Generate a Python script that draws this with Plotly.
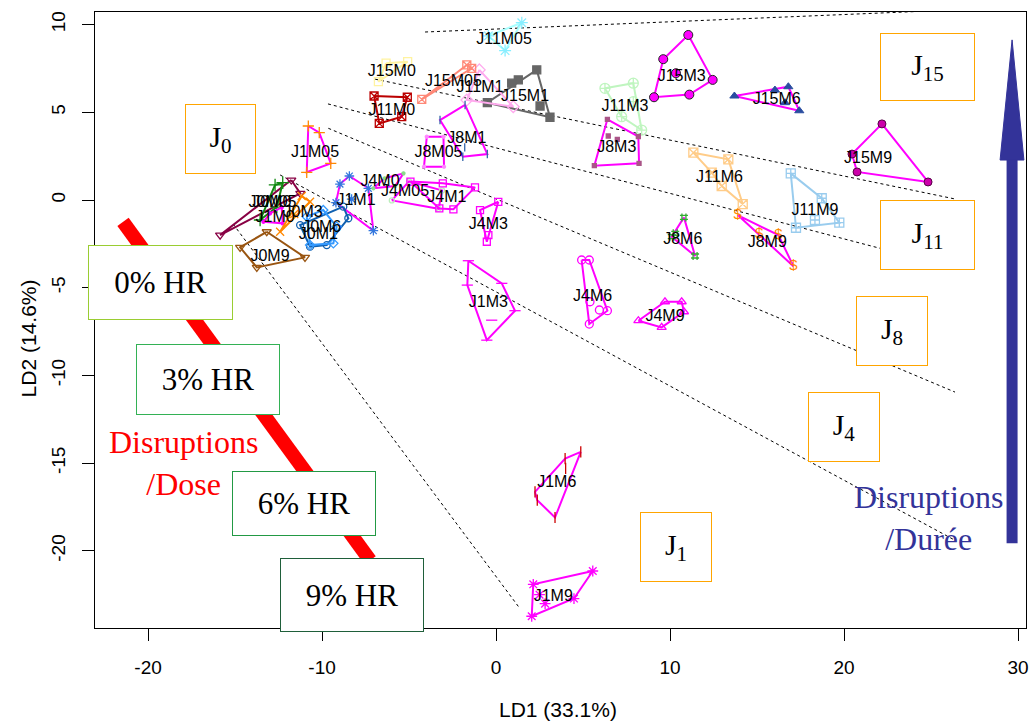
import plotly.graph_objects as go

# ---------------- data (LD1, LD2 coordinates) ----------------
J15M3_x = [11.05, 12.45, 11.11, 9.08, 9.61];   J15M3_y = [9.41, 6.85, 6.01, 5.86, 8.03]
J15M3_ix = [10.34];                            J15M3_iy = [7.23]
J15M6_x = [13.70, 16.80, 17.43];               J15M6_y = [5.93, 6.46, 5.09]
J15M6_ix = [16.03, 16.61];                     J15M6_iy = [6.27, 5.55]
J11M3_x = [6.26, 7.89, 8.37, 7.22];            J11M3_y = [6.37, 6.66, 3.99, 4.75]
J11M3_ix = [7.89];                             J11M3_iy = [5.61]
J8M3_x = [6.40, 8.18, 8.22, 5.65];             J8M3_y = [4.60, 3.61, 2.09, 1.96]
J8M3_ix = [6.45, 6.97];                        J8M3_iy = [3.65, 3.46]
J11M6_x = [11.34, 13.35, 14.18, 12.97, 12.40]; J11M6_y = [2.70, 2.32, -0.23, 0.80, 1.56]
J11M9_x = [16.94, 18.72, 19.73, 17.24];        J11M9_y = [1.52, 0.10, -1.29, -1.58]
J11M9_ix = [18.33];                            J11M9_iy = [-1.14]
J8M6_x = [10.80, 11.44, 10.10];                J8M6_y = [-0.99, -3.19, -2.09]
J8M6_ix = [10.30];                             J8M6_iy = [-1.90]
J8M9_x = [13.89, 16.23, 17.09];                J8M9_y = [-0.86, -2.00, -3.77]
J8M9_ix = [15.13];                             J8M9_iy = [-1.94]
J15M9_x = [22.18, 24.83, 20.75, 20.46];        J15M9_y = [4.34, 1.03, 1.60, 2.62]
J15M1_x = [2.34, 3.10, -0.50];                 J15M1_y = [7.42, 4.72, 5.55]
J15M1_ix = [1.28, 0.90, 2.53];                 J15M1_iy = [6.85, 6.66, 5.36]
J11M1_x = [-0.96, 0.99, -1.68];                J11M1_y = [7.42, 5.32, 5.70]
J15M05_x = [-1.68, -1.40, -4.27];              J15M05_y = [7.70, 7.51, 5.74]
J15M0_x = [-6.32, -5.08, -6.76];               J15M0_y = [7.80, 7.89, 6.75]
J11M0_x = [-7.01, -5.10, -5.42, -6.71];        J11M0_y = [5.93, 5.86, 4.75, 4.37]
J11M05_x = [1.48, 0.52, -0.44];                J11M05_y = [10.11, 8.52, 9.36]
J8M1_x = [-1.78, -0.50, -1.91, -3.22];         J8M1_y = [5.42, 2.62, 2.47, 4.56]
J8M1_ix = [-1.80];                             J8M1_iy = [3.00]
J8M05_x = [-3.98, -3.02, -2.99, -4.14];        J8M05_y = [3.61, 3.61, 1.90, 1.90]
J1M05_x = [-10.79, -10.16, -9.50, -10.88];     J1M05_y = [4.22, 3.84, 2.09, 1.58]
J1M1_x = [-8.43, -7.34, -7.05, -9.20, -8.97];  J1M1_y = [1.37, 0.67, -1.75, -0.15, 0.91]
J1M1_ix = [-8.30];                             J1M1_iy = [0.05]
J4M0_x = [-7.05, -6.40, -5.32, -5.80];         J4M0_y = [0.67, 1.24, 1.52, 0.80]
J4M05_x = [-5.99, -5.00, -3.10, -3.30];        J4M05_y = [-0.02, 1.06, 0.55, -0.50]
J4M1_x = [-4.92, -3.06, -1.21, -2.45, -3.26];  J4M1_y = [1.05, 0.95, 0.72, -0.53, -0.48]
J4M3_x = [0.13, -0.53, -0.92];                 J4M3_y = [-0.10, -2.38, -0.57]
J4M3_ix = [-0.44];                             J4M3_iy = [-2.00]
J1M3_x = [-1.59, 0.33, 1.09, -0.53, -1.65];    J1M3_y = [-3.46, -4.75, -6.31, -7.99, -4.85]
J1M3_ix = [-0.25];                             J1M3_iy = [-6.85]
J4M6_x = [4.92, 5.36, 6.40, 5.36];             J4M6_y = [-3.42, -3.42, -6.31, -7.07]
J4M6_ix = [5.94, 5.40];                        J4M6_iy = [-6.27, -5.80]
J4M9_x = [8.18, 9.71, 10.67, 10.80, 9.52];     J4M9_y = [-6.88, -5.80, -5.80, -6.37, -7.26]
J1M6_x = [4.87, 3.39, 2.37, 2.24, 3.97];       J1M6_y = [-14.36, -18.10, -17.11, -16.64, -14.74]
J1M6_ix = [4.00];                              J1M6_iy = [-15.30]
J1M9_x = [5.56, 4.48, 2.05, 2.14];             J1M9_y = [-21.15, -22.72, -23.73, -21.91]
J1M9_ix = [2.82, 2.50];                        J1M9_iy = [-23.01, -22.50]
J0M0_x = [-11.77, -11.25, -15.86];             J0M0_y = [1.14, 0.38, -2.00]
J0M05_x = [-12.70, -12.26, -12.60, -13.56];    J0M05_y = [0.86, 0.99, -0.40, -1.14]
J1M0_x = [-12.99, -12.32, -12.26, -13.37];     J1M0_y = [-0.76, -0.42, -1.33, -1.24]
J0M3_x = [-11.17, -10.69, -12.41];             J0M3_y = [0.23, -0.10, -1.81]
J0M3_ix = [-11.60];                            J0M3_iy = [-0.80]
J0M1_x = [-8.78, -8.49, -9.73, -10.69, -11.26]; J0M1_y = [-0.38, -1.04, -2.57, -2.66, -1.43]
J0M6_x = [-10.88, -9.93, -9.16, -9.35, -10.69]; J0M6_y = [-0.95, -0.57, -1.52, -2.47, -2.57]
J0M9_x = [-13.18, -10.98, -13.75, -14.71];     J0M9_y = [-1.81, -3.27, -3.84, -2.70]

label_names = ["J15M3", "J15M6", "J11M3", "J8M3", "J11M6", "J11M9", "J8M6", "J8M9",
               "J15M9", "J15M1", "J11M1", "J15M05", "J15M0", "J11M0", "J11M05", "J8M1",
               "J8M05", "J1M05", "J1M1", "J4M0", "J4M05", "J4M1", "J4M3", "J1M3", "J4M6",
               "J4M9", "J1M6", "J1M9", "J0M0", "J0M05", "J1M0", "J0M3", "J0M6", "J0M1", "J0M9"]
label_x = [10.67, 16.13, 7.41, 6.94, 12.84, 18.33, 10.73, 15.59,
           21.38, 1.67, -0.92, -2.45, -5.99, -5.99, 0.46, -1.68,
           -3.31, -10.40, -8.05, -6.67, -5.23, -2.83, -0.44, -0.44, 5.55,
           9.71, 3.49, 3.29, -12.89, -12.85, -12.70, -11.09, -10.02, -10.21, -12.99]
label_y = [7.03, 5.70, 5.29, 2.95, 1.24, -0.61, -2.28, -2.43,
           2.34, 5.89, 6.37, 6.75, 7.32, 5.09, 9.13, 3.46,
           2.70, 2.70, -0.04, 1.00, 0.47, 0.10, -1.43, -5.89, -5.55,
           -6.69, -16.16, -22.63, -0.19, -0.17, -1.05, -0.74, -1.62, -2.00, -3.27]

# dotted boundary lines between sampling days
bound_x0 = [-4.08, -6.95, -9.66, -9.64, -12.41, -15.11]
bound_y0 = [9.58, 6.89, 5.48, 4.09, 1.43, -1.37]
bound_x1 = [26.38, 26.38, 26.38, 26.38, 26.38, 1.32]
bound_y1 = [10.84, 0.06, -3.87, -10.95, -19.40, -23.22]

# axis ticks
x_ticks = [-20, -10, 0, 10, 20, 30]
x_tick_text = ["-20", "-10", "0", "10", "20", "30"]
y_ticks = [-20, -15, -10, -5, 0, 5, 10]
y_tick_text = ["-20", "-15", "-10", "-5", "0", "5", "10"]

# labelled boxes
day_box_text = ["J<sub>0</sub>", "J<sub>15</sub>", "J<sub>11</sub>", "J<sub>8</sub>", "J<sub>4</sub>", "J<sub>1</sub>"]
day_box_x = [-15.83, 24.80, 24.80, 22.76, 20.00, 10.34]
day_box_y = [3.48, 7.59, -2.00, -7.47, -12.95, -19.79]
dose_box_text = ["0% HR", "3% HR", "6% HR", "9% HR"]
dose_box_x = [-19.28, -16.55, -11.03, -8.28]
dose_box_y = [-4.71, -10.24, -17.31, -22.53]

dose_arrow_x = [-21.44, -7.24]
dose_arrow_y = [-1.25, -20.54]
time_arrow_x = 29.66
time_shaft_y = [-19.57, 2.60]
time_head_x = [28.97, 30.34, 29.66]
time_head_y = [2.28, 2.28, 9.13]

# ---------------- styles ----------------
MAG = "#ff00ff"
groups = [
    ("J15M3", J15M3_x, J15M3_y, J15M3_ix, J15M3_iy, MAG, "circle", MAG, 9, "#222222"),
    ("J15M6", J15M6_x, J15M6_y, J15M6_ix, J15M6_iy, MAG, "triangle-up", "#2a4da0", 8, "#2a4da0"),
    ("J11M3", J11M3_x, J11M3_y, J11M3_ix, J11M3_iy, "#bff5bf", "circle-cross-open", "#bff5bf", 10, None),
    ("J8M3", J8M3_x, J8M3_y, J8M3_ix, J8M3_iy, MAG, "square", "#aa5588", 4, None),
    ("J11M6", J11M6_x, J11M6_y, [], [], "#ffcc88", "square-x-open", "#ffcc88", 9, None),
    ("J11M9", J11M9_x, J11M9_y, J11M9_ix, J11M9_iy, "#99ccee", "square-cross-open", "#99ccee", 9, None),
    ("J8M6", J8M6_x, J8M6_y, J8M6_ix, J8M6_iy, MAG, "hash-open", "#33aa33", 8, None),
    ("J8M9", J8M9_x, J8M9_y, J8M9_ix, J8M9_iy, MAG, None, "#ff8800", 0, None),
    ("J15M9", J15M9_x, J15M9_y, [], [], MAG, "circle", "#cc00aa", 8, "#550044"),
    ("J15M1", J15M1_x, J15M1_y, J15M1_ix, J15M1_iy, "#666666", "square", "#666666", 8, None),
    ("J11M1", J11M1_x, J11M1_y, [], [], "#ffaaee", "diamond-open", "#ffaaee", 9, None),
    ("J15M05", J15M05_x, J15M05_y, [], [], "#ff8877", "square-x-open", "#ff8877", 8, None),
    ("J15M0", J15M0_x, J15M0_y, [], [], "#fff3a0", "square-open", "#fff3a0", 8, None),
    ("J11M0", J11M0_x, J11M0_y, [], [], "#bb0000", "square-x-open", "#bb0000", 8, None),
    ("J11M05", J11M05_x, J11M05_y, [], [], "#aaffff", "asterisk-open", "#88eeff", 10, None),
    ("J8M1", J8M1_x, J8M1_y, J8M1_ix, J8M1_iy, MAG, "line-ns-open", "#3366aa", 6, None),
    ("J8M05", J8M05_x, J8M05_y, [], [], MAG, "circle", "#ff88ff", 3, None),
    ("J1M05", J1M05_x, J1M05_y, [], [], MAG, "cross-thin-open", "#ff8800", 8, None),
    ("J1M1", J1M1_x, J1M1_y, J1M1_ix, J1M1_iy, MAG, "asterisk-open", "#3377dd", 8, None),
    ("J4M0", J4M0_x, J4M0_y, [], [], MAG, "circle", "#88dd88", 3, None),
    ("J4M05", J4M05_x, J4M05_y, [], [], MAG, "circle-open", "#bbeebb", 5, None),
    ("J4M1", J4M1_x, J4M1_y, [], [], MAG, "square-open", MAG, 7, None),
    ("J4M3", J4M3_x, J4M3_y, J4M3_ix, J4M3_iy, MAG, "square-open", MAG, 7, None),
    ("J1M3", J1M3_x, J1M3_y, J1M3_ix, J1M3_iy, MAG, "line-ew-open", MAG, 8, None),
    ("J4M6", J4M6_x, J4M6_y, J4M6_ix, J4M6_iy, MAG, "circle-open", MAG, 8, None),
    ("J4M9", J4M9_x, J4M9_y, [], [], MAG, "triangle-up-open", MAG, 8, None),
    ("J1M6", J1M6_x, J1M6_y, J1M6_ix, J1M6_iy, MAG, "line-ns-open", "#cc0000", 8, None),
    ("J1M9", J1M9_x, J1M9_y, J1M9_ix, J1M9_iy, MAG, "asterisk-open", MAG, 9, None),
    ("J0M0", J0M0_x, J0M0_y, [], [], "#880044", "triangle-down-open", "#880044", 8, None),
    ("J0M05", J0M05_x, J0M05_y, [], [], "#118811", "cross-thin-open", "#118811", 9, None),
    ("J1M0", J1M0_x, J1M0_y, [], [], MAG, "circle", MAG, 3, None),
    ("J0M3", J0M3_x, J0M3_y, J0M3_ix, J0M3_iy, "#ff8800", "x-thin-open", "#ff8800", 8, None),
    ("J0M1", J0M1_x, J0M1_y, [], [], "#1060b0", "circle-open", "#1060b0", 7, None),
    ("J0M6", J0M6_x, J0M6_y, [], [], "#3399ff", "diamond-open", "#3399ff", 7, None),
    ("J0M9", J0M9_x, J0M9_y, [], [], "#995511", "triangle-down-open", "#995511", 8, None),
]

SANS = "Liberation Sans, Arial, sans-serif"
SERIF = "Liberation Serif, Times New Roman, serif"

fig = go.Figure()

# dose arrow (thick red band) drawn first
fig.add_trace(go.Scatter(x=dose_arrow_x, y=dose_arrow_y, mode="lines",
                         line=dict(color="#ff0000", width=14), hoverinfo="skip"))

# dotted boundaries
for i in range(len(bound_x0)):
    fig.add_trace(go.Scatter(x=[bound_x0[i], bound_x1[i]], y=[bound_y0[i], bound_y1[i]],
                             mode="lines", line=dict(color="black", width=1, dash="dot"),
                             hoverinfo="skip"))

# hull polygons and points
for name, hx, hy, ix, iy, lc, sym, mc, ms, mlc in groups:
    fig.add_trace(go.Scatter(x=list(hx) + [hx[0]], y=list(hy) + [hy[0]], mode="lines",
                             line=dict(color=lc, width=2), name=name, hoverinfo="skip"))
    px = list(hx) + list(ix)
    py = list(hy) + list(iy)
    if sym is None:
        fig.add_trace(go.Scatter(x=px, y=py, mode="text", text=["$"] * len(px),
                                 textfont=dict(color=mc, size=15, family=SANS), hoverinfo="skip"))
    else:
        mk = dict(symbol=sym, color=mc, size=ms)
        if mlc:
            mk["line"] = dict(color=mlc, width=1)
        else:
            mk["line"] = dict(color=mc, width=1.3)
        fig.add_trace(go.Scatter(x=px, y=py, mode="markers", marker=mk, hoverinfo="skip"))

# group labels
fig.add_trace(go.Scatter(x=label_x, y=label_y, mode="text", text=label_names,
                         textfont=dict(family=SANS, size=16, color="black"), hoverinfo="skip"))

# time arrow
fig.add_trace(go.Scatter(x=[time_arrow_x, time_arrow_x], y=time_shaft_y, mode="lines",
                         line=dict(color="#333399", width=11), hoverinfo="skip"))
fig.add_trace(go.Scatter(x=time_head_x + [time_head_x[0]], y=time_head_y + [time_head_y[0]],
                         mode="lines", fill="toself", fillcolor="#333399",
                         line=dict(color="#333399", width=1), hoverinfo="skip"))

annotations = []
day_sizes = [(71, 70), (95, 68), (95, 70), (72, 70), (72, 70), (72, 70)]
for t, x, y, (w, h) in zip(day_box_text, day_box_x, day_box_y, day_sizes):
    annotations.append(dict(x=x, y=y, xref="x", yref="y", text=t, showarrow=False,
                            font=dict(family=SERIF, size=30, color="black"),
                            width=w - 2, height=h - 2, borderpad=0, borderwidth=1,
                            bordercolor="#ffa500", bgcolor="white"))
dose_sizes = [(145, 75), (144, 71), (144, 65), (144, 74)]
dose_colors = ["#9acd32", "#33b155", "#229944", "#1f5f3a"]
for t, x, y, (w, h), c in zip(dose_box_text, dose_box_x, dose_box_y, dose_sizes, dose_colors):
    annotations.append(dict(x=x, y=y, xref="x", yref="y", text=t, showarrow=False,
                            font=dict(family=SERIF, size=31, color="black"),
                            width=w - 2, height=h - 2, borderpad=0, borderwidth=1,
                            bordercolor=c, bgcolor="white"))
annotations.append(dict(x=-17.99, y=-15.0, xref="x", yref="y", showarrow=False,
                        text="Disruptions<br>/Dose", align="center",
                        font=dict(family=SERIF, size=32, color="#ff0000")))
annotations.append(dict(x=24.83, y=-18.14, xref="x", yref="y", showarrow=False,
                        text="Disruptions<br>/Durée", align="center",
                        font=dict(family=SERIF, size=32, color="#333399")))
annotations.append(dict(x=0.497, y=-0.133, xref="paper", yref="paper", showarrow=False,
                        xanchor="center", yanchor="middle",
                        text="LD1 (33.1%)", font=dict(family=SANS, size=21, color="black")))
annotations.append(dict(x=-0.071, y=0.47, xref="paper", yref="paper", showarrow=False,
                        xanchor="center", yanchor="middle",
                        text="LD2 (14.6%)", textangle=-90,
                        font=dict(family=SANS, size=21, color="black")))

fig.update_layout(
    width=1034, height=721,
    margin=dict(l=95, r=8, t=12, b=93),
    paper_bgcolor="white", plot_bgcolor="white",
    showlegend=False,
    annotations=annotations,
    xaxis=dict(range=[-23.05, 30.46], tickvals=x_ticks, ticktext=x_tick_text, showgrid=False,
               zeroline=False, showline=True, mirror=True, linecolor="black", linewidth=1,
               ticks="outside", ticklen=12, tickcolor="black", ticklabelstandoff=10,
               tickfont=dict(family=SANS, size=19, color="black"), automargin=False),
    yaxis=dict(range=[-24.4, 10.72], tickvals=y_ticks, ticktext=y_tick_text, showgrid=False,
               zeroline=False, showline=True, mirror=True, linecolor="black", linewidth=1,
               ticks="outside", ticklen=12, tickcolor="black", tickangle=-90,
               ticklabelstandoff=9, automargin=False,
               tickfont=dict(family=SANS, size=19, color="black")),
)

fig.write_html("out.html", config={"displayModeBar": False},
               post_script="document.body.style.margin='0';")
